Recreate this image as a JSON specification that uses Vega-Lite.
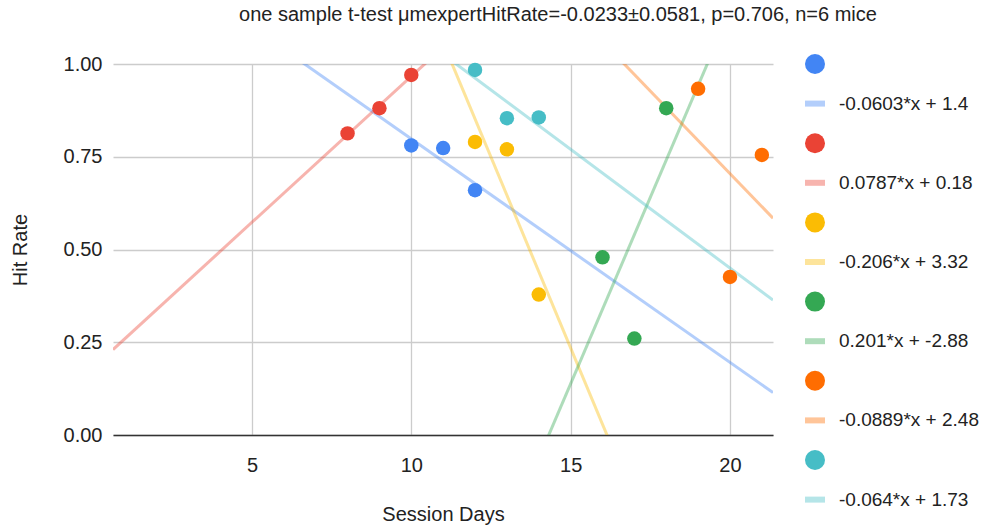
{
  "$schema": "https://vega.github.io/schema/vega-lite/v6.json",
  "width": 660,
  "height": 371,
  "autosize": {"type": "none"},
  "padding": {"left": 113, "top": 64, "right": 211, "bottom": 92},
  "background": "white",
  "config": {
    "view": {"stroke": null},
    "font": "Liberation Sans",
    "axis": {"labelFont": "Liberation Sans", "titleFont": "Liberation Sans", "labelColor": "#222222", "titleColor": "#222222", "labelFontSize": 20, "titleFontSize": 20, "titleFontWeight": "normal", "gridColor": "#cccccc", "gridWidth": 1.3, "ticks": false}
  },
  "title": {"text": "one sample t-test μmexpertHitRate=-0.0233±0.0581, p=0.706, n=6 mice", "fontSize": 20, "fontWeight": "normal", "color": "#222222", "font": "Liberation Sans", "anchor": "middle", "dx": 115, "offset": 29},
  "data": {"values": [
    {"day": 10, "hit": 0.7805, "series": "pt1", "trend": "-0.0603*x + 1.4"},
    {"day": 11, "hit": 0.7735, "series": "pt1", "trend": "-0.0603*x + 1.4"},
    {"day": 12, "hit": 0.66, "series": "pt1", "trend": "-0.0603*x + 1.4"},
    {"day": 8, "hit": 0.813, "series": "pt2", "trend": "0.0787*x + 0.18"},
    {"day": 9, "hit": 0.881, "series": "pt2", "trend": "0.0787*x + 0.18"},
    {"day": 10, "hit": 0.9704, "series": "pt2", "trend": "0.0787*x + 0.18"},
    {"day": 12, "hit": 0.79, "series": "pt3", "trend": "-0.206*x + 3.32"},
    {"day": 13, "hit": 0.77, "series": "pt3", "trend": "-0.206*x + 3.32"},
    {"day": 14, "hit": 0.3785, "series": "pt3", "trend": "-0.206*x + 3.32"},
    {"day": 16, "hit": 0.479, "series": "pt4", "trend": "0.201*x + -2.88"},
    {"day": 17, "hit": 0.26, "series": "pt4", "trend": "0.201*x + -2.88"},
    {"day": 18, "hit": 0.881, "series": "pt4", "trend": "0.201*x + -2.88"},
    {"day": 19, "hit": 0.933, "series": "pt5", "trend": "-0.0889*x + 2.48"},
    {"day": 20, "hit": 0.426, "series": "pt5", "trend": "-0.0889*x + 2.48"},
    {"day": 21, "hit": 0.755, "series": "pt5", "trend": "-0.0889*x + 2.48"},
    {"day": 12, "hit": 0.984, "series": "pt6", "trend": "-0.064*x + 1.73"},
    {"day": 13, "hit": 0.854, "series": "pt6", "trend": "-0.064*x + 1.73"},
    {"day": 14, "hit": 0.856, "series": "pt6", "trend": "-0.064*x + 1.73"}
  ]},
  "layer": [
    {
      "transform": [{"regression": "hit", "on": "day", "groupby": ["trend"], "method": "linear", "extent": [0.64, 21.35]}],
      "mark": {"type": "line", "clip": true, "strokeWidth": 3, "strokeOpacity": 0.4},
      "encoding": {
        "x": {"field": "day", "type": "quantitative", "scale": {"domain": [0.64, 21.35], "nice": false, "zero": false},
              "axis": {"title": "Session Days", "values": [5, 10, 15, 20], "labelPadding": 20, "titlePadding": 29, "domainColor": "#333333", "domainWidth": 1.5}},
        "y": {"field": "hit", "type": "quantitative", "scale": {"domain": [0, 1], "nice": false},
              "axis": {"title": "Hit Rate", "values": [0, 0.25, 0.5, 0.75, 1], "format": ".2f", "labelPadding": 11, "titlePadding": 33, "domain": false}},
        "color": {"field": "trend", "type": "nominal", "title": null,
          "scale": {"domain": ["pt1", "-0.0603*x + 1.4", "pt2", "0.0787*x + 0.18", "pt3", "-0.206*x + 3.32", "pt4", "0.201*x + -2.88", "pt5", "-0.0889*x + 2.48", "pt6", "-0.064*x + 1.73"],
                    "range": ["#4285F4", "#4285F4", "#EA4335", "#EA4335", "#FBBC04", "#FBBC04", "#34A853", "#34A853", "#FF6D01", "#FF6D01", "#46BDC6", "#46BDC6"]},
          "legend": {
            "orient": "none", "legendX": 692, "legendY": -10, "padding": 0,
            "symbolSize": 400, "rowPadding": 19.6, "labelOffset": 14,
            "labelFont": "Liberation Sans", "labelFontSize": 19, "labelColor": "#222222", "labelLimit": 300,
            "labelExpr": "indexof(datum.value, 'pt') == 0 ? '' : datum.label",
            "encode": {"symbols": {"update": {
              "shape": {"signal": "indexof(datum.value, 'pt') == 0 ? 'circle' : 'M-1,-0.3H1V0.3H-1Z'"},
              "fill": {"scale": "color", "field": "value"},
              "fillOpacity": {"signal": "indexof(datum.value, 'pt') == 0 ? 1 : 0.4"},
              "strokeWidth": {"value": 0},
              "opacity": {"value": 1}
            }}}
          }}
      }
    },
    {
      "mark": {"type": "point", "filled": true, "size": 210, "opacity": 1},
      "encoding": {
        "x": {"field": "day", "type": "quantitative"},
        "y": {"field": "hit", "type": "quantitative"},
        "color": {"field": "series", "type": "nominal", "title": null}
      }
    }
  ]
}
